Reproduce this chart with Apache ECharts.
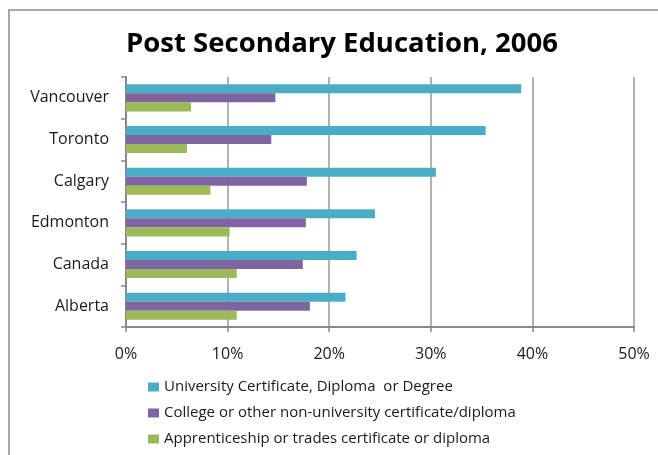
<!DOCTYPE html>
<html>
<head>
<meta charset="utf-8">
<script src="https://cdn.jsdelivr.net/npm/echarts@6/dist/echarts.min.js"></script>
<style>
  html, body { margin: 0; padding: 0; background: #fff; }
  #chart { width: 658px; height: 455px; }
</style>
</head>
<body>
<div id="chart"></div>
<script>
// Share of population with post-secondary credentials, by region (percent)
const regions = ['Vancouver', 'Toronto', 'Calgary', 'Edmonton', 'Canada', 'Alberta'];
const universityValues = [38.9, 35.4, 30.5, 24.5, 22.7, 21.6];
const collegeValues = [14.7, 14.3, 17.8, 17.7, 17.4, 18.1];
const apprenticeValues = [6.4, 6.0, 8.3, 10.2, 10.9, 10.9];
const seriesNames = [
  'University Certificate, Diploma  or Degree',
  'College or other non-university certificate/diploma',
  'Apprenticeship or trades certificate or diploma'
];
const seriesColors = ['#4bacc6', '#8064a2', '#9bbb59'];
const xTicks = { min: 0, max: 50, interval: 10 };

const FONT = '"Open Sans", sans-serif';
const chart = echarts.init(document.getElementById('chart'));

const values = [universityValues, collegeValues, apprenticeValues];

// one legend block per series, stacked vertically below the plot
const legendTops = [378, 404, 430];
const legends = seriesNames.map((name, i) => ({
  orient: 'vertical',
  left: 148,
  top: legendTops[i],
  padding: 0,
  itemWidth: 11,
  itemHeight: 9,
  icon: 'rect',
  data: [name],
  textStyle: { fontFamily: FONT, fontSize: 15, lineHeight: 18, color: '#1a1a1a' }
}));

chart.setOption({
  animation: false,
  backgroundColor: '#ffffff',
  title: {
    text: 'Post Secondary Education, 2006',
    left: 337,
    textAlign: 'center',
    top: 25,
    textStyle: { fontFamily: FONT, fontWeight: 'bold', fontSize: 27.5, color: '#000' }
  },
  graphic: [{
    type: 'rect',
    shape: { x: 9, y: 10, width: 700, height: 500 },
    style: { fill: 'none', stroke: '#a8a8a8', lineWidth: 2 },
    silent: true
  }],
  legend: legends,
  grid: { left: 126, right: 24, top: 77, bottom: 128 },
  xAxis: {
    type: 'value',
    min: xTicks.min,
    max: xTicks.max,
    interval: xTicks.interval,
    axisLine: { show: true, lineStyle: { color: '#888', width: 2 } },
    axisTick: { show: true, length: 5, lineStyle: { color: '#888', width: 1.5 } },
    splitLine: { show: true, lineStyle: { color: '#999', width: 1.5 } },
    axisLabel: {
      formatter: '{value}%',
      margin: 19,
      fontFamily: FONT, fontSize: 16, color: '#1a1a1a'
    }
  },
  yAxis: {
    type: 'category',
    inverse: true,
    data: regions,
    axisLine: { show: true, lineStyle: { color: '#888', width: 2 } },
    axisTick: { show: true, length: 5, lineStyle: { color: '#888', width: 1.5 } },
    axisLabel: { margin: 17, fontFamily: FONT, fontSize: 16, color: '#1a1a1a' }
  },
  series: seriesNames.map((name, i) => ({
    name: name,
    type: 'bar',
    data: values[i],
    barGap: '0%',
    barCategoryGap: '35%',
    itemStyle: { color: seriesColors[i] }
  }))
});
</script>
</body>
</html>
